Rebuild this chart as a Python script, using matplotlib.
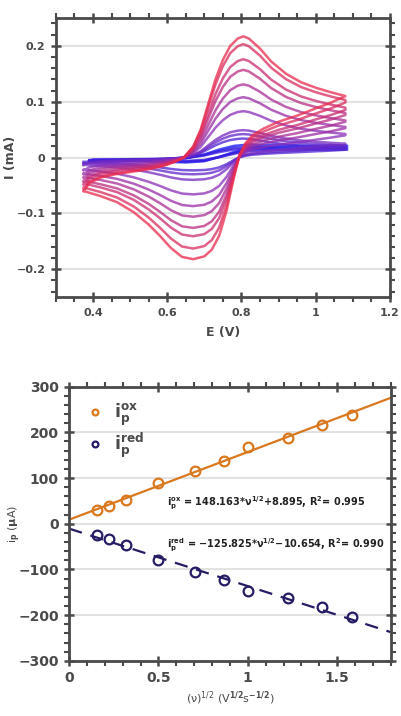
import matplotlib
matplotlib.use("Agg")
import matplotlib.pyplot as plt
import numpy as np
from matplotlib.colors import LinearSegmentedColormap
from matplotlib.ticker import MultipleLocator

plt.rcParams["font.family"] = ["DejaVu Sans"]
plt.rcParams["font.weight"] = "bold"
plt.rcParams["mathtext.fontset"] = "dejavusans"
plt.rcParams["mathtext.default"] = "bf"

# --- CV data (top panel) ---
# shape of the largest voltammogram (mA)
e_fwd = [0.375, 0.39, 0.42, 0.46, 0.50, 0.55, 0.59, 0.62, 0.645, 0.67, 0.69, 0.71, 0.73,
         0.75, 0.77, 0.79, 0.805, 0.82, 0.85, 0.88, 0.92, 0.96, 1.00, 1.04, 1.08]
i_fwd = [-0.060, -0.046, -0.036, -0.030, -0.026, -0.021, -0.015, -0.008, 0.000, 0.020, 0.050,
         0.095, 0.140, 0.175, 0.200, 0.213, 0.217, 0.213, 0.195, 0.172, 0.150, 0.135, 0.125,
         0.117, 0.110]
e_rev = [1.08, 1.04, 1.00, 0.95, 0.90, 0.86, 0.83, 0.81, 0.795, 0.78, 0.76, 0.74, 0.72,
         0.70, 0.67, 0.64, 0.61, 0.58, 0.55, 0.51, 0.465, 0.42, 0.375]
i_rev = [0.110, 0.098, 0.088, 0.075, 0.064, 0.052, 0.040, 0.025, 0.005, -0.035, -0.095,
         -0.140, -0.165, -0.177, -0.182, -0.178, -0.162, -0.140, -0.120, -0.098, -0.080,
         -0.069, -0.060]
# near steady-state shape of the slowest scans (relative to plateau)
e_sig_fwd = [0.39, 0.40, 0.50, 0.60, 0.65, 0.70, 0.74, 0.78, 0.82, 0.90, 1.00, 1.085]
i_sig_fwd = [-0.35, -0.25, -0.20, -0.15, -0.05, 0.25, 0.65, 0.95, 1.05, 1.00, 0.95, 0.95]
e_sig_rev = [1.085, 1.00, 0.90, 0.82, 0.78, 0.74, 0.70, 0.65, 0.60, 0.50, 0.39]
i_sig_rev = [0.95, 0.93, 0.90, 0.80, 0.45, 0.05, -0.30, -0.40, -0.35, -0.30, -0.30]

# anodic / cathodic peak heights of each scan (mA), slow -> fast
cv_ipa = [0.022, 0.018, 0.015, 0.034, 0.042, 0.049, 0.083, 0.108, 0.131, 0.157, 0.176, 0.203, 0.217]
cv_ipc = [0.022, 0.018, 0.015, 0.023, 0.030, 0.040, 0.066, 0.087, 0.106, 0.126, 0.141, 0.163, 0.182]
cv_steady = [True, True, True, False, False, False, False, False, False, False, False, False, False]

# --- Randles-Sevcik data (bottom panel) ---
sqrt_v = [0.158, 0.224, 0.316, 0.5, 0.707, 0.866, 1.0, 1.225, 1.414, 1.581]
ip_ox = [30, 38, 53, 90, 115, 138, 168, 187, 217, 237]
ip_red = [-25, -33, -47, -80, -105, -123, -148, -163, -183, -203]
fit_ox = [148.163, 8.895]
fit_red = [-125.825, -10.654]

fig = plt.figure(figsize=(4.02, 7.16), dpi=100)
ax1 = fig.add_axes([0.139, 0.585, 0.831, 0.390])
ax2 = fig.add_axes([0.172, 0.077, 0.800, 0.383])

frame = "#4a4a4a"
txt = "#4a4a4a"


def style(ax, size):
    for s in ax.spines.values():
        s.set_color(frame)
        s.set_linewidth(2)
    ax.tick_params(which="both", top=True, right=True, color=frame, labelcolor=txt)
    ax.tick_params(which="major", direction="inout", length=7, width=1.8, labelsize=size, pad=4)
    ax.tick_params(which="minor", direction="out", length=3.5, width=1.5)
    for lab in ax.get_xticklabels() + ax.get_yticklabels():
        lab.set_fontweight("bold")
    ax.grid(axis="y", which="major", color="#e2e2e2", lw=1.5)
    ax.set_axisbelow(True)


cmap = LinearSegmentedColormap.from_list("bluered", ["#1414f0", "#8a2fb8", "#ea2a4c"])
n = len(cv_ipa)
big_a, big_c = max(i_fwd), -min(i_rev)
for k in range(n):
    c = cmap(k / (n - 1))
    if cv_steady[k]:
        ef, iff = e_sig_fwd, np.array(i_sig_fwd) * cv_ipa[k]
        er, irr = e_sig_rev, np.array(i_sig_rev) * cv_ipc[k]
    else:
        ef, iff = e_fwd, np.array(i_fwd) * cv_ipa[k] / big_a
        er, irr = e_rev, np.array(i_rev) * cv_ipc[k] / big_c
    ax1.plot(list(ef) + list(er), list(iff) + list(irr), color=c, alpha=0.75, lw=1.8,
             solid_joinstyle="round")

ax1.set_xlim(0.3, 1.2)
ax1.set_ylim(-0.25, 0.25)
ax1.xaxis.set_minor_locator(MultipleLocator(0.05))
ax1.yaxis.set_minor_locator(MultipleLocator(0.02))
ax1.set_xticks([0.4, 0.6, 0.8, 1.0, 1.2])
ax1.set_xticklabels(["0.4", "0.6", "0.8", "1", "1.2"])
ax1.set_yticks([-0.2, -0.1, 0, 0.1, 0.2])
ax1.set_yticklabels(["\u22120.2", "\u22120.1", "0", "0.1", "0.2"])
ax1.set_xlabel("E (V)", fontsize=9, color=txt, fontweight="bold")
ax1.set_ylabel("I (mA)", fontsize=9, color=txt, fontweight="bold")
ax1.xaxis.set_label_coords(0.5, -0.105)
ax1.yaxis.set_label_coords(-0.115, 0.5)
style(ax1, 8)

# bottom panel
orange = "#d9781e"
navy = "#251c66"
xl = np.array([0, 1.8])
ax2.plot(xl, np.polyval(fit_ox, xl), color=orange, lw=1.6)
ax2.plot(xl, np.polyval(fit_red, xl), color=navy, lw=1.6, ls=(0, (6, 4)))
ax2.plot(sqrt_v, ip_ox, ls="none", marker="o", ms=7, mfc="none", mec=orange, mew=1.6,
         label=r"i$_\mathbf{p}^\mathbf{ox}$")
ax2.plot(sqrt_v, ip_red, ls="none", marker="o", ms=7, mfc="none", mec=navy, mew=1.6,
         label=r"i$_\mathbf{p}^\mathbf{red}$")
ax2.legend(loc="upper left", frameon=False, prop={"size": 12.5, "weight": "bold"},
           markerscale=0.6, handlelength=1.2, handletextpad=0.5, labelspacing=0.15,
           borderaxespad=0.5, labelcolor=txt)

ax2.text(0.55, 44, r"i$_p^{ox}$ = 148.163*$\nu^{1/2}$+8.895, R$^2$= 0.995",
         fontsize=7, color="#222222", va="center", fontweight="bold")
ax2.text(0.55, -47, r"i$_p^{red}$ = $-$125.825*$\nu^{1/2}$$-$10.654, R$^2$= 0.990",
         fontsize=7, color="#222222", va="center", fontweight="bold")

ax2.set_xlim(0, 1.8)
ax2.set_ylim(-300, 300)
ax2.set_xticks([0, 0.5, 1, 1.5])
ax2.set_xticklabels(["0", "0.5", "1", "1.5"])
ax2.xaxis.set_minor_locator(MultipleLocator(0.1))
ax2.set_yticks([-300, -200, -100, 0, 100, 200, 300])
ax2.set_yticklabels(["\u2212300", "\u2212200", "\u2212100", "0", "100", "200", "300"])
ax2.yaxis.set_minor_locator(MultipleLocator(20))
ax2.set_xlabel(r"$\mathregular{(\nu)^{1/2}}$ (V$^{1/2}$s$^{-1/2}$)", fontsize=8, color=txt,
               fontweight="normal")
ax2.set_ylabel(r"i$_p$ ($\mu$A)", fontsize=8, color=txt, fontweight="normal")
ax2.xaxis.set_label_coords(0.5, -0.105)
ax2.yaxis.set_label_coords(-0.145, 0.5)
style(ax2, 10)

fig.savefig("out.png", dpi=100)
